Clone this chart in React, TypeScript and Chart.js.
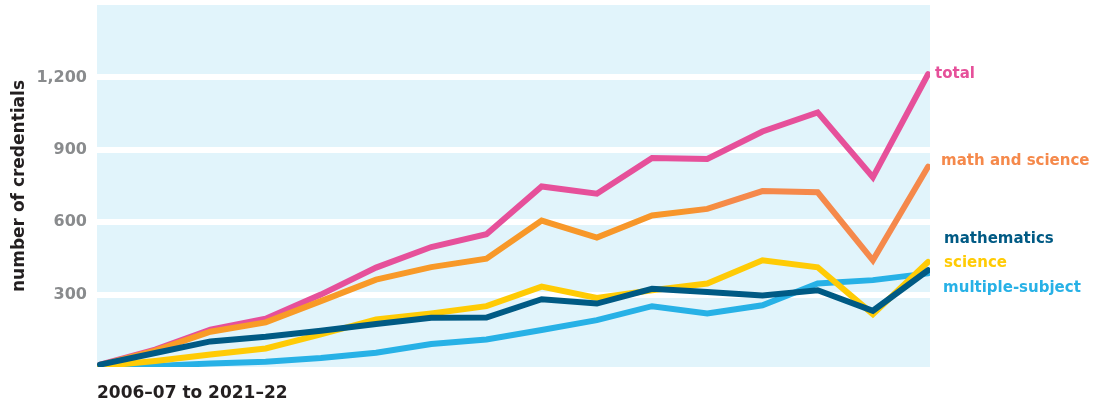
import React, { useEffect, useRef } from "react";
import { Chart, registerables } from "chart.js";

Chart.register(...registerables);

const categories = [
  "2006–07", "2007–08", "2008–09", "2009–10", "2010–11", "2011–12", "2012–13", "2013–14",
  "2014–15", "2015–16", "2016–17", "2017–18", "2018–19", "2019–20", "2020–21", "2021–22",
];
const total = [10, 72, 155, 200, 300, 412, 497, 550, 748, 718, 866, 862, 976, 1055, 786, 1213];
const mathAndScience = [8, 68, 146, 185, 273, 362, 414, 449, 607, 536, 628, 655, 729, 724, 442, 830];
const mathematics = [10, 58, 106, 125, 150, 178, 204, 205, 281, 263, 324, 311, 296, 318, 233, 401];
const science = [3, 25, 52, 77, 135, 197, 222, 252, 333, 286, 318, 346, 442, 413, 219, 435];
const multipleSubject = [2, 4, 15, 22, 37, 59, 95, 114, 153, 194, 252, 222, 256, 346, 360, 388];
const yTicks = [300, 600, 900, 1200];
const xTitle = "2006–07 to 2021–22";
const yTitle = "number of credentials";

const FONT = "'DejaVu Sans', sans-serif";

type Series = { name: string; values: number[]; color: string; dx: number; dy: number };

const series: Series[] = [
  { name: "mathematics", values: mathematics, color: "#005a84", dx: 16, dy: -31 },
  { name: "science", values: science, color: "#ffcb05", dx: 16, dy: 1 },
  { name: "multiple-subject", values: multipleSubject, color: "#27b1e6", dx: 15, dy: 15 },
  { name: "math and science", values: mathAndScience, color: "#f5894b", dx: 13, dy: -6 },
  { name: "total", values: total, color: "#e6509a", dx: 7, dy: 0 },
];

const backgroundPlugin = {
  id: "plotBackground",
  beforeDraw(chart: any) {
    const { ctx, chartArea } = chart;
    if (!chartArea) return;
    ctx.save();
    ctx.fillStyle = "#e1f4fb";
    ctx.fillRect(chartArea.left, chartArea.top, chartArea.right - chartArea.left, chartArea.bottom - chartArea.top);
    ctx.restore();
  },
};

const endLabelPlugin = {
  id: "endLabels",
  afterDatasetsDraw(chart: any) {
    const { ctx } = chart;
    ctx.save();
    ctx.font = `bold 15px ${FONT}`;
    ctx.textAlign = "left";
    ctx.textBaseline = "middle";
    series.forEach((s, i) => {
      const meta = chart.getDatasetMeta(i);
      const pt = meta.data[meta.data.length - 1];
      if (!pt) return;
      ctx.fillStyle = s.color;
      ctx.fillText(s.name, pt.x + s.dx, pt.y + s.dy);
    });
    ctx.restore();
  },
};

function orangeGradient(context: any) {
  const chart = context.chart;
  const area = chart.chartArea;
  if (!area) return "#f7941d";
  const g = chart.ctx.createLinearGradient(area.left, 0, area.right, 0);
  g.addColorStop(0, "#f99d25");
  g.addColorStop(0.7, "#f7962a");
  g.addColorStop(0.76, "#f5894b");
  g.addColorStop(1, "#f5894b");
  return g;
}

export default function App() {
  const ref = useRef<HTMLCanvasElement | null>(null);

  useEffect(() => {
    if (!ref.current) return;
    const chart = new Chart(ref.current, {
      type: "line",
      data: {
        labels: categories,
        datasets: series.map((s) => ({
          label: s.name,
          data: s.values.map((v, i) => ({ x: i, y: v })),
          borderColor: s.name === "math and science" ? orangeGradient : s.color,
          backgroundColor: s.color,
          borderWidth: 6,
          borderCapStyle: "round",
          borderJoinStyle: "miter",
          pointRadius: 0,
          pointHoverRadius: 0,
          tension: 0,
          fill: false,
        })),
      },
      options: {
        responsive: false,
        animation: false,
        devicePixelRatio: 1,
        layout: { padding: { left: 0, right: 166, top: 5, bottom: 0 } },
        plugins: {
          legend: { display: false },
          tooltip: { enabled: false },
        },
        scales: {
          x: {
            type: "linear",
            min: -0.055,
            max: 15.035,
            ticks: { display: false },
            grid: { display: false },
            border: { display: false },
            title: {
              display: true,
              text: xTitle,
              align: "start",
              color: "#231f20",
              font: { family: FONT, weight: "bold", size: 17 },
              padding: { top: 0, bottom: 0 },
            },
            afterFit: (s: any) => {
              s.height = 37;
              s.paddingLeft = 0;
              s.paddingRight = 0;
            },
          },
          y: {
            min: 0,
            max: 1500,
            afterBuildTicks: (s: any) => {
              s.ticks = yTicks.map((v) => ({ value: v }));
            },
            ticks: {
              color: "#898b8d",
              font: { family: FONT, weight: "bold", size: 16 },
              padding: 10,
              callback: (v: any) => Number(v).toLocaleString("en-US"),
            },
            grid: { color: "#ffffff", lineWidth: 6, drawTicks: false },
            border: { display: false },
            title: {
              display: true,
              text: yTitle,
              color: "#231f20",
              font: { family: FONT, weight: "bold", size: 17 },
              padding: { top: 9, bottom: 0 },
            },
            afterFit: (s: any) => {
              s.width = 97;
              s.paddingTop = 0;
              s.paddingBottom = 0;
            },
          },
        },
      } as any,
      plugins: [backgroundPlugin, endLabelPlugin],
    });
    return () => chart.destroy();
  }, []);

  return (
    <div style={{ position: "absolute", left: 0, top: 0, width: 1096, height: 404 }}>
      <canvas ref={ref} width={1096} height={404} style={{ width: 1096, height: 404 }} />
    </div>
  );
}
